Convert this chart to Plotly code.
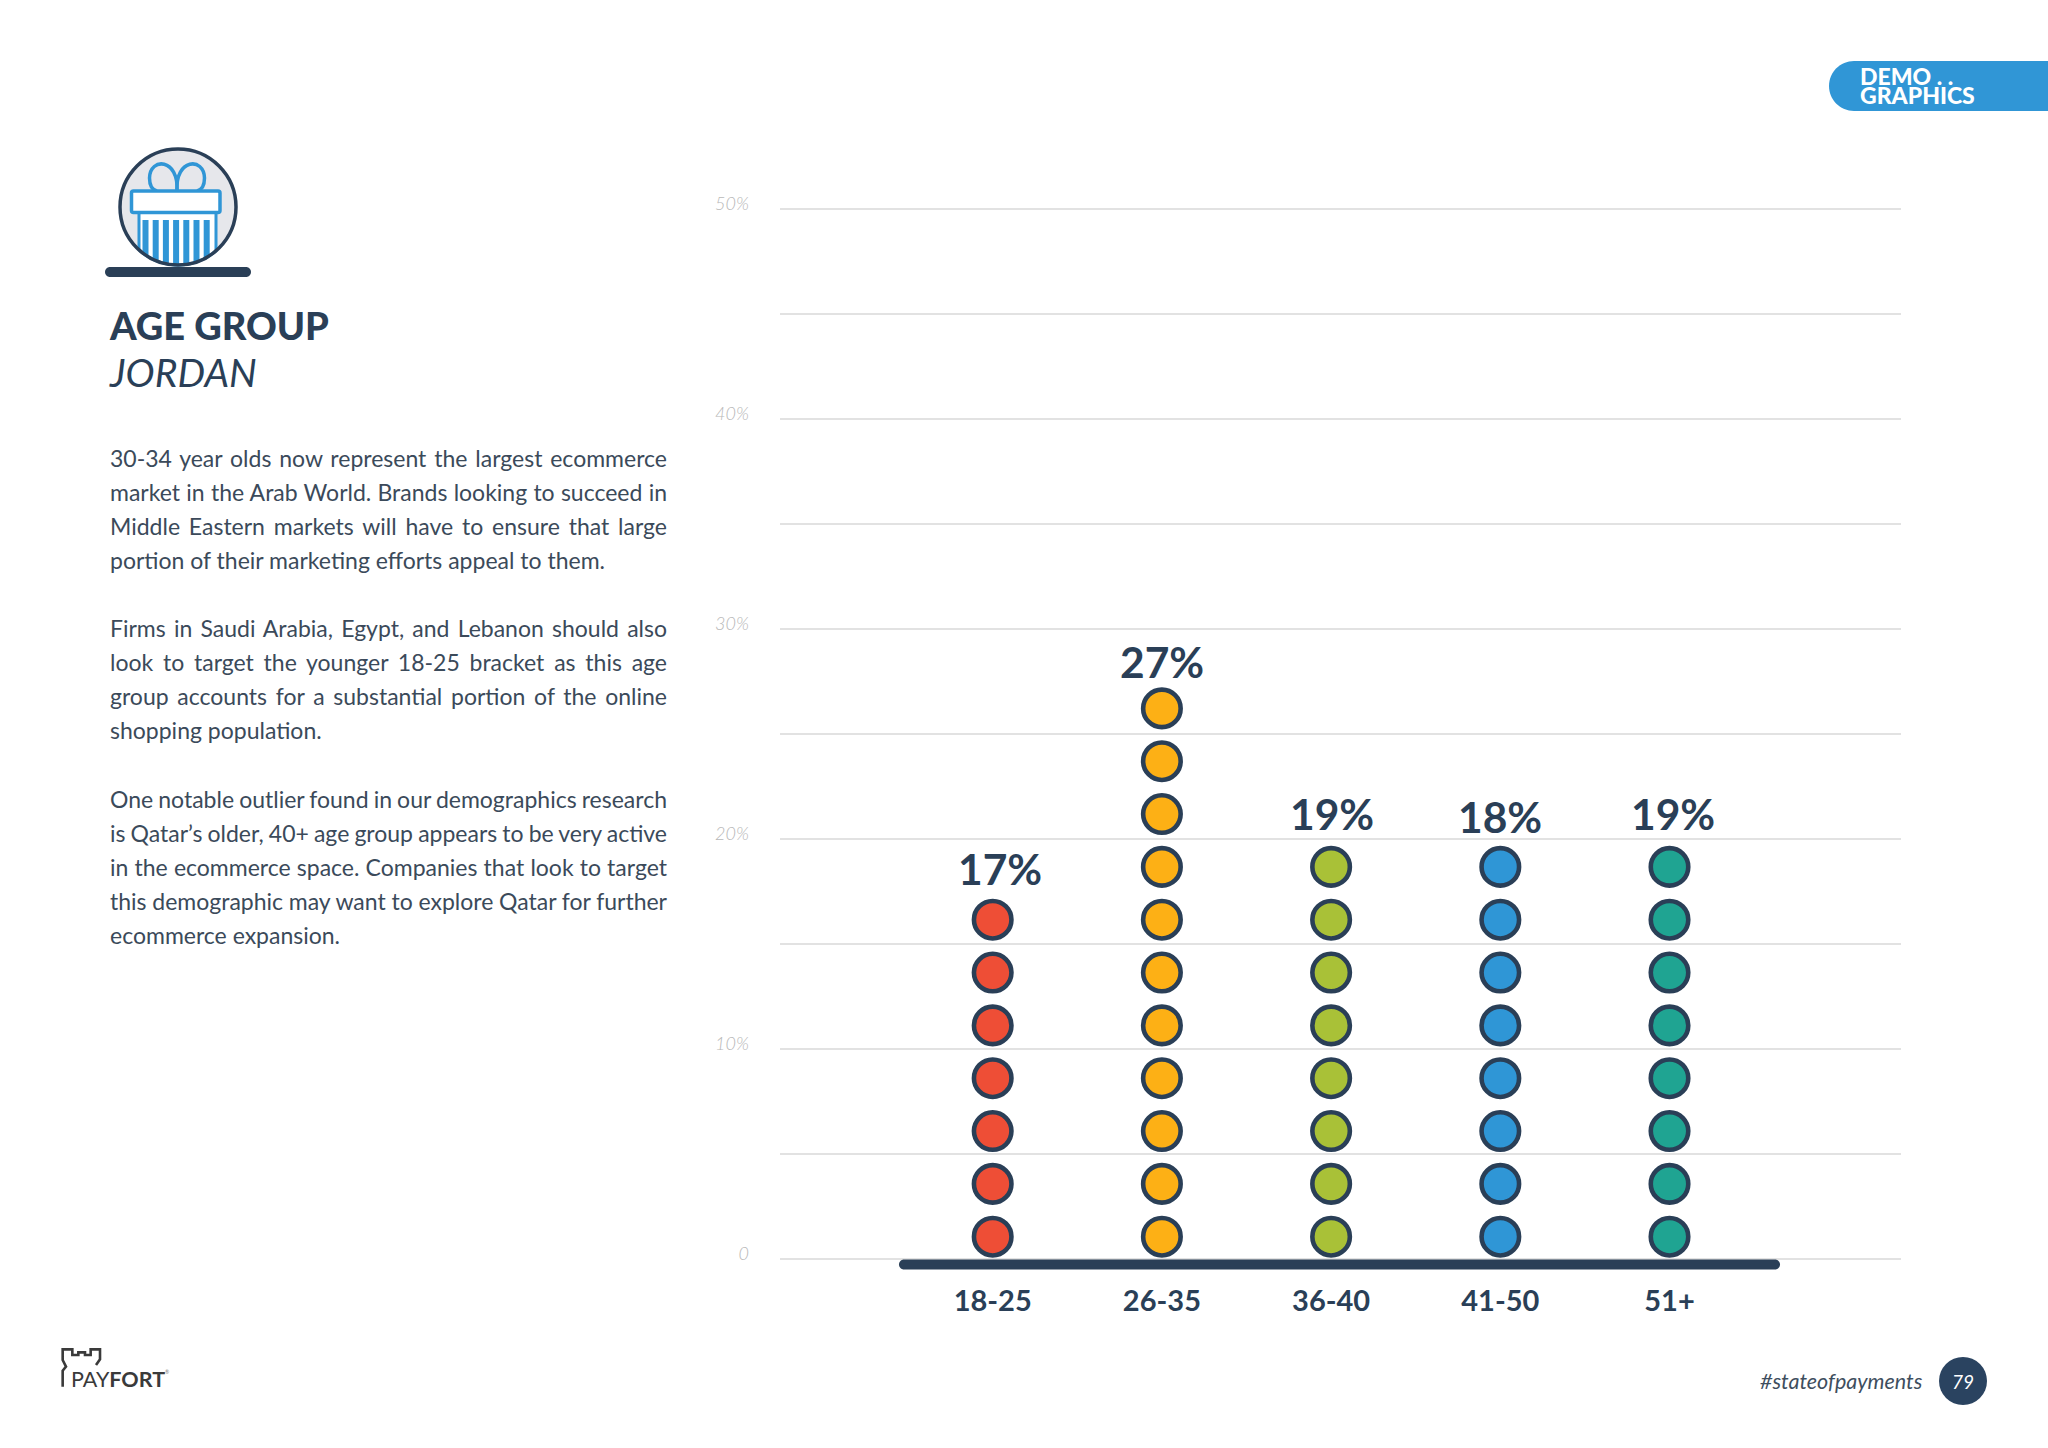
import json
import math
import plotly.graph_objects as go

# ---------- data ----------
categories = ["18-25", "26-35", "36-40", "41-50", "51+"]
percent_values = [17, 27, 19, 18, 19]
dot_counts = [7, 11, 8, 8, 8]
dot_colors = ["#EE4E36", "#FDB015", "#A9C137", "#2F96D6", "#1FA492"]
y_tick_values = [0, 10, 20, 30, 40, 50]
y_tick_labels = ["0", "10%", "20%", "30%", "40%", "50%"]
body_lines = [
    "30-34 year olds now represent the largest ecommerce",
    "market in the Arab World. Brands looking to succeed in",
    "Middle Eastern markets will have to ensure that large",
    "portion of their marketing efforts appeal to them.",
    "Firms in Saudi Arabia, Egypt, and Lebanon should also",
    "look to target the younger 18-25 bracket as this age",
    "group accounts for a substantial portion of the online",
    "shopping population.",
    "One notable outlier found in our demographics research",
    "is Qatar’s older, 40+ age group appears to be very active",
    "in the ecommerce space. Companies that look to target",
    "this demographic may want to explore Qatar for further",
    "ecommerce expansion.",
]
body_rows = [457.7, 491.7, 525.7, 559.7, 628.2, 662.2, 696.2, 730.2, 799.2, 832.7, 866.7, 900.7, 934.7]
last_lines = {3, 7, 12}

# ---------- style ----------
W, H = 2048, 1448
NAVY = "#2A3F57"
BLUE = "#3096D6"
GRID = "#E2E2E2"
FONT = "Lato"
DOT_STEP = 2.516
DOT_BASE = 1.06
label_dy = [51, 47, 53, 50, 53]
label_dx = [7, 0, 1, 0, 3]


def px(x):
    return x / W


def py(y):
    return 1 - y / H


def pt(x, y):
    return f"{px(x):.5f},{py(y):.5f}"


def rrect(x0, y0, x1, y1, r, rr=None):
    rr = r if rr is None else rr
    k = 0.45
    return (
        f"M{pt(x0 + r, y0)} L{pt(x1 - rr, y0)} "
        f"C{pt(x1 - rr * k, y0)} {pt(x1, y0 + rr * k)} {pt(x1, y0 + rr)} "
        f"L{pt(x1, y1 - rr)} C{pt(x1, y1 - rr * k)} {pt(x1 - rr * k, y1)} {pt(x1 - rr, y1)} "
        f"L{pt(x0 + r, y1)} C{pt(x0 + r * k, y1)} {pt(x0, y1 - r * k)} {pt(x0, y1 - r)} "
        f"L{pt(x0, y0 + r)} C{pt(x0, y0 + r * k)} {pt(x0 + r * k, y0)} {pt(x0 + r, y0)} Z"
    )


shapes = []


def path(d, fill=None, line=None, width=0):
    shapes.append(dict(type="path", xref="paper", yref="paper", path=d,
                       fillcolor=fill or "rgba(0,0,0,0)",
                       line=dict(color=line or "rgba(0,0,0,0)", width=width), layer="above"))


def oval(x0, y0, x1, y1, fill=None, line=None, width=0):
    shapes.append(dict(type="circle", xref="paper", yref="paper",
                       x0=px(x0), x1=px(x1), y0=py(y1), y1=py(y0),
                       fillcolor=fill or "rgba(0,0,0,0)",
                       line=dict(color=line or "rgba(0,0,0,0)", width=width), layer="above"))


annotations = []


def text(x, y, s, size, color=NAVY, anchor="left", weight=400, style="normal", family=FONT):
    annotations.append(dict(x=px(x), y=py(y), xref="paper", yref="paper", text=s, showarrow=False,
                            xanchor=anchor, yanchor="middle", align=anchor,
                            font=dict(family=family, size=size, color=color, weight=weight, style=style),
                            borderpad=0, borderwidth=0))


# ---------- chart traces ----------
fig = go.Figure()
for i, cat in enumerate(categories):
    fig.add_trace(go.Scatter(
        x=[cat] * dot_counts[i],
        y=[DOT_BASE + DOT_STEP * k for k in range(dot_counts[i])],
        mode="markers", showlegend=False, hoverinfo="skip", cliponaxis=False,
        marker=dict(size=37.5, color=dot_colors[i], line=dict(color=NAVY, width=4.6)),
    ))
    annotations.append(dict(
        x=cat, y=DOT_BASE + DOT_STEP * (dot_counts[i] - 1), xref="x", yref="y",
        text=f"{percent_values[i]}%", showarrow=False, xanchor="center", yanchor="middle",
        xshift=label_dx[i], yshift=label_dy[i],
        font=dict(family=FONT, size=42.5, color=NAVY, weight=700),
    ))

# baseline bar
path(rrect(899, 1259.5, 1780, 1269.5, 5), fill=NAVY)

# banner
path(rrect(1829, 61, 2100, 111, 25, 0), fill=BLUE)
text(1860, 76, "DEMO . .", 23, "#FFFFFF", weight=900)
text(1860, 95.5, "GRAPHICS", 23, "#FFFFFF", weight=900)

# gift icon
cx, cy, r = 178, 207, 58
oval(cx - r, cy - r, cx + r, cy + r, fill="#E6E7EB")


def circ_y(x):
    return cy + math.sqrt(max(r * r - (x - cx) ** 2, 0))


xs = [139 + (216 - 139) * t / 24 for t in range(25)]
body = f"M{pt(139, 212)} L{pt(216, 212)} " + " ".join(f"L{pt(x, circ_y(x))}" for x in reversed(xs)) + " Z"
path(body, fill="#FFFFFF", line=BLUE, width=3)
for k in range(7):
    x0 = 142.5 + k * 10.2
    x1 = x0 + 6
    path(f"M{pt(x0, 220)} L{pt(x1, 220)} L{pt(x1, circ_y(x1))} L{pt(x0, circ_y(x0))} Z", fill=BLUE)
path(f"M{pt(177, 191)} C{pt(179, 158)} {pt(150, 157)} {pt(149.5, 178)} C{pt(149.5, 186)} {pt(153, 190)} {pt(157, 191)}",
     line=BLUE, width=3.5)
path(f"M{pt(177, 191)} C{pt(175, 158)} {pt(204, 157)} {pt(204.5, 178)} C{pt(204.5, 186)} {pt(201, 190)} {pt(197, 191)}",
     line=BLUE, width=3.5)
path(rrect(131.5, 191, 220, 212.5, 2), fill="#FFFFFF", line=BLUE, width=3.5)
oval(cx - r, cy - r, cx + r, cy + r, line=NAVY, width=3.5)
path(rrect(105, 267, 251, 277, 5), fill=NAVY)

# headings
text(109, 325, "AGE GROUP", 38, weight=900)
text(109, 372, "JORDAN", 39, style="italic", weight=400)

# body
justified = []
for n, (line, row) in enumerate(zip(body_lines, body_rows)):
    text(110, row, line, 23, "#3B4A5A")
    if n not in last_lines:
        justified.append(line)

# logo
castle = [(68, 200), (68, 152), (78, 140), (68, 120), (68, 88), (97, 88), (97, 105), (115, 105),
          (115, 97), (135, 97), (135, 105), (152, 105), (152, 88), (180, 88), (180, 118), (168, 135)]
path("M" + " L".join(pt(40 + a / 3, 1320 + b / 3) for a, b in castle), line="#3A3A3A", width=2.6)
text(71, 1379, "PAY<b>FORT</b>", 21.5, "#3A3A3A")
text(165, 1372, "®", 5, "#777777")

# footer
text(1760, 1381, "#stateofpayments", 21.5, "#3E4E5E", style="italic")
oval(1939, 1357, 1987, 1405, fill="#2A4360")
text(1963, 1381, "79", 19, "#FFFFFF", anchor="center", style="italic")

fig.update_layout(
    width=W, height=H, autosize=False,
    margin=dict(l=0, r=0, t=0, b=0),
    paper_bgcolor="#FFFFFF", plot_bgcolor="#FFFFFF",
    showlegend=False, shapes=shapes, annotations=annotations,
    xaxis=dict(
        domain=[780 / W, 1901 / W], type="category", categoryorder="array", categoryarray=categories,
        range=[-1.257, 5.368], showgrid=False, zeroline=False, showline=False, ticks="",
        tickmode="array", tickvals=categories, ticktext=categories, ticklabelstandoff=11,
        tickfont=dict(family=FONT, size=29, color=NAVY, weight=700), automargin=False,
    ),
    yaxis=dict(
        domain=[1 - 1269.5 / H, 1 - 198.5 / H], range=[-0.5, 50.5], showline=False, zeroline=False, ticks="",
        tickmode="array", tickvals=y_tick_values, ticktext=y_tick_labels,
        showgrid=True, gridcolor=GRID, gridwidth=1.6,
        minor=dict(dtick=5, tick0=0, showgrid=True, gridcolor=GRID, gridwidth=1.6),
        ticklabelstandoff=30, ticklabelshift=-5,
        tickfont=dict(family=FONT, size=18, color="#B8B8B8", weight=300, style="italic"), automargin=False,
    ),
)

post = """
document.body.style.margin = '0';
document.documentElement.style.overflow = 'hidden';
var LINES = %s;
document.querySelectorAll('.annotation-text').forEach(function (t) {
  if (LINES.indexOf(t.textContent) < 0) return;
  var n = t.textContent.split(' ').length - 1;
  var w = t.getComputedTextLength();
  t.style.wordSpacing = ((557 - w) / n) + 'px';
});
""" % json.dumps(justified)

fig.write_html("out.html", post_script=post, config={"displayModeBar": False})
